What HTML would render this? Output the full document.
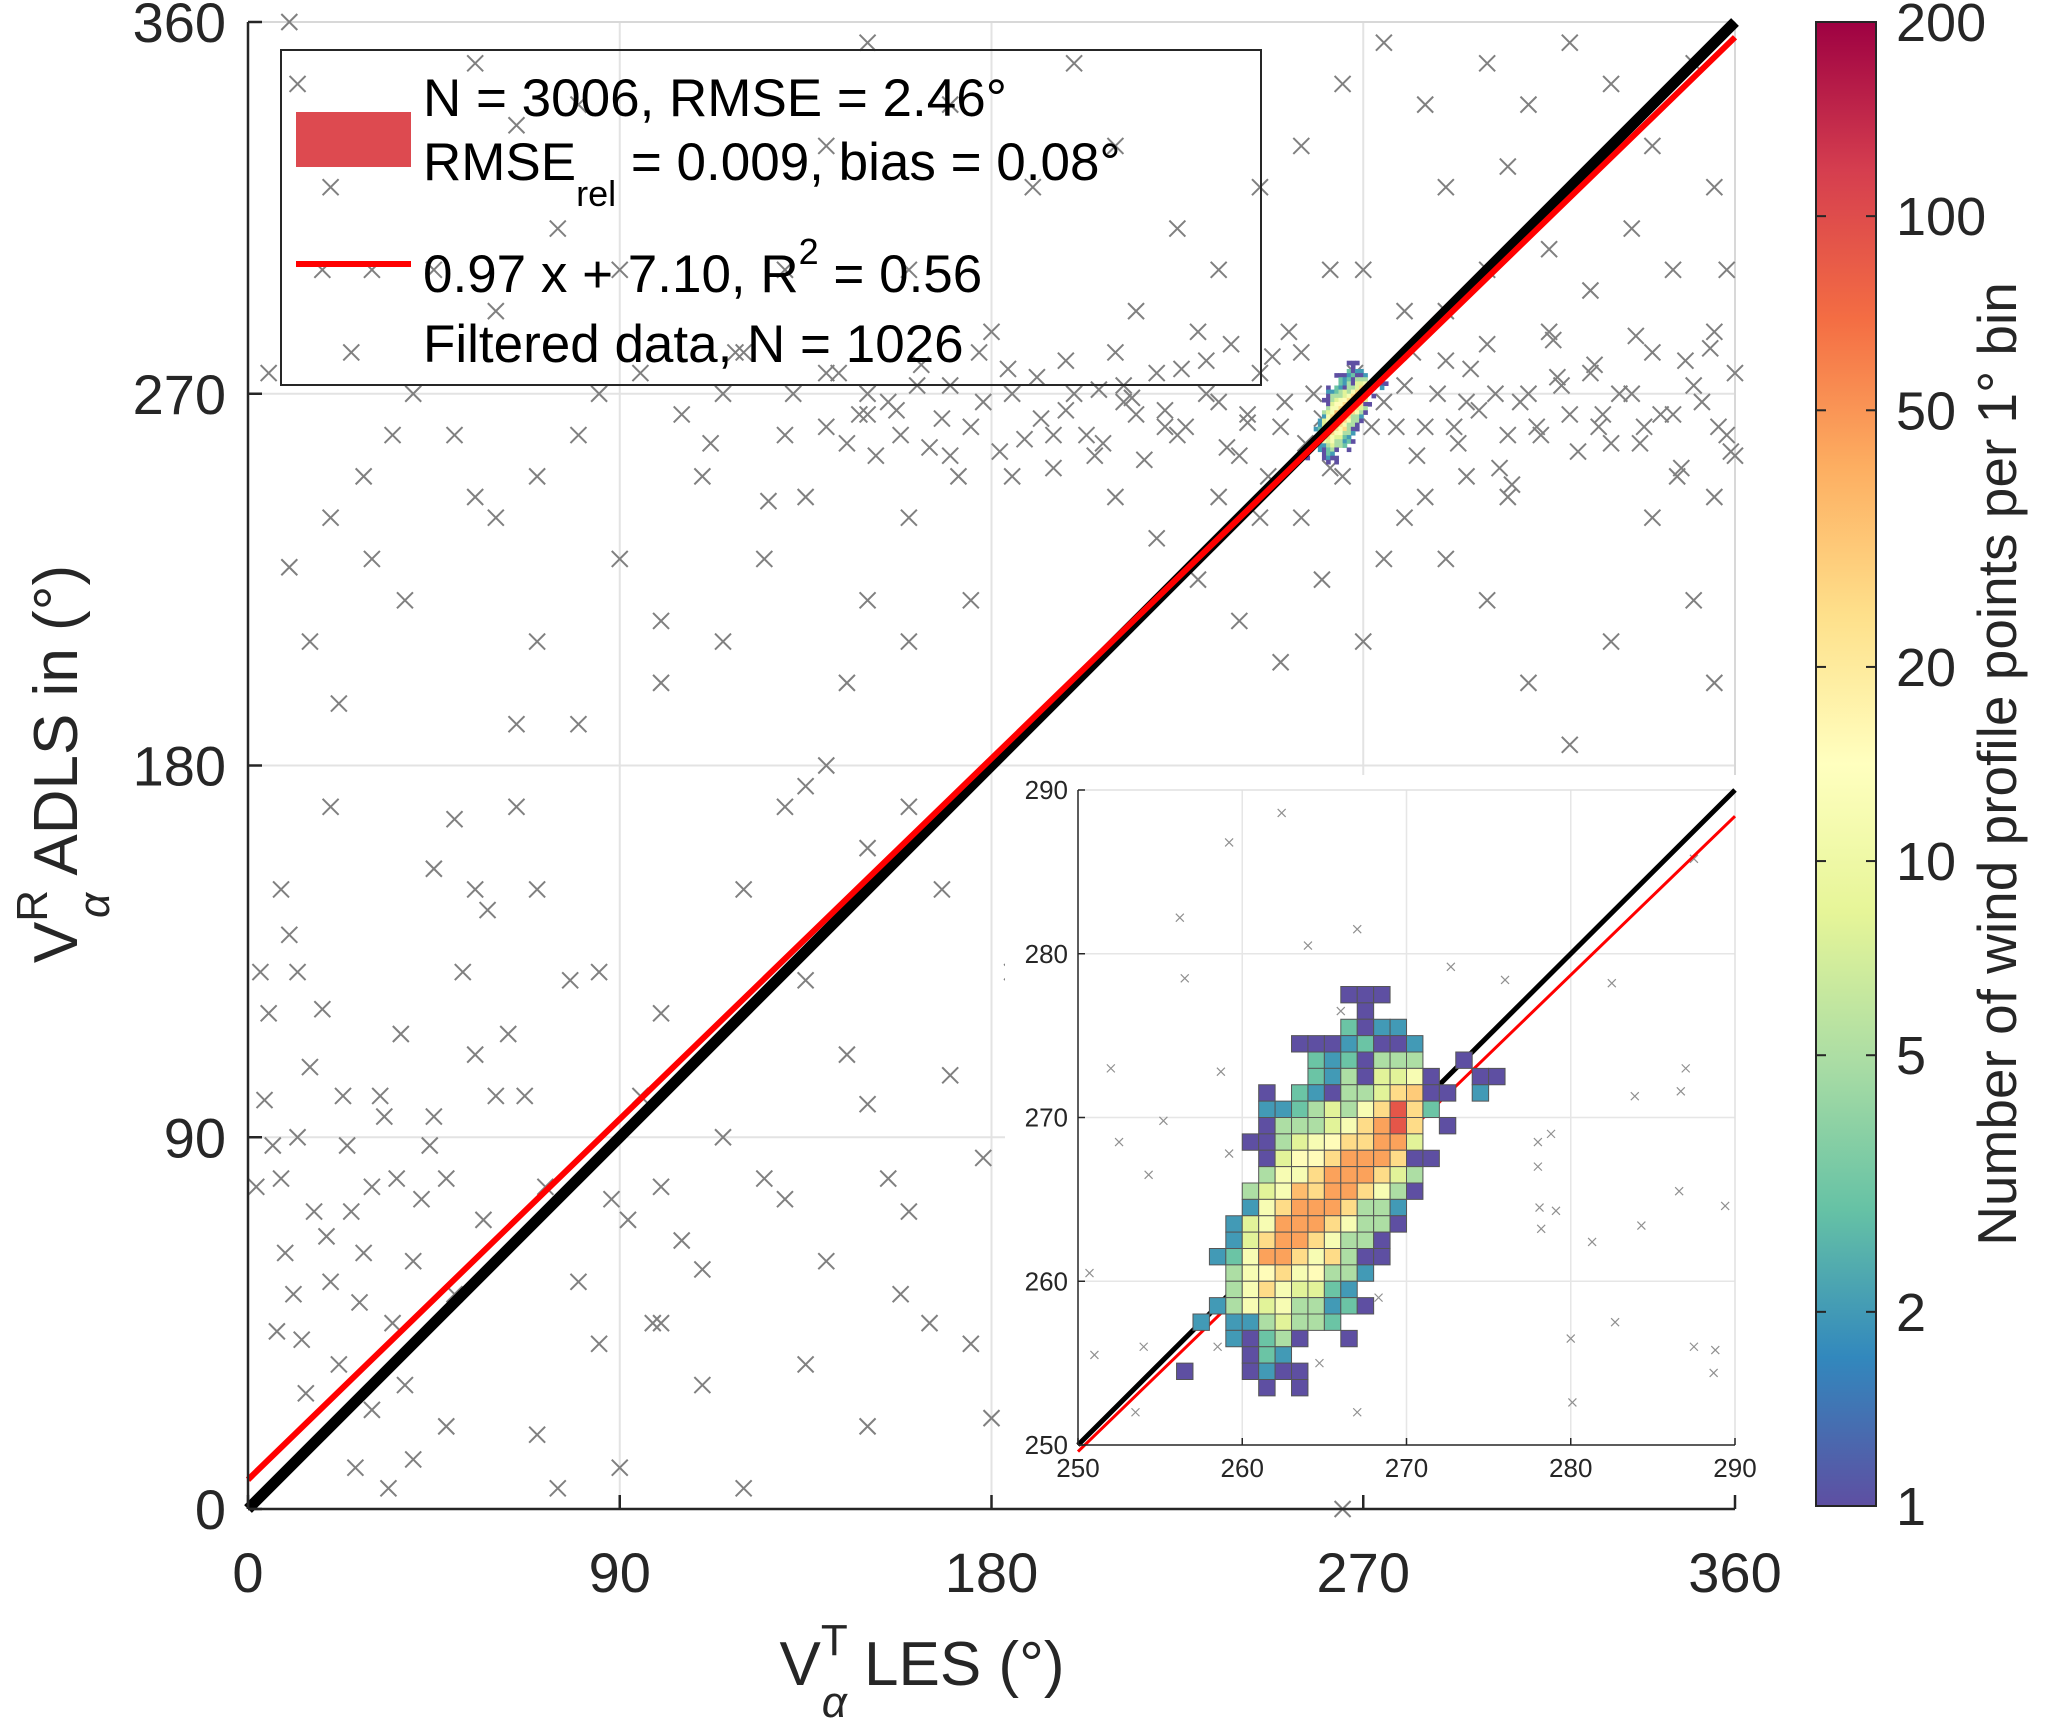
<!DOCTYPE html>
<html><head><meta charset="utf-8">
<style>
html,body{margin:0;padding:0;background:#fff;}
svg{display:block;font-family:"Liberation Sans",Arial,sans-serif;}
</style></head>
<body>
<svg id="chart" width="2066" height="1724" viewBox="0 0 2066 1724" xmlns="http://www.w3.org/2000/svg">
<rect width="2066" height="1724" fill="#fff"/>
<g id="main"></g>
<g id="legend"></g>
<g id="inset"></g>
<g id="cbar"></g>
</svg>
<script>
const mainTicks = [0, 90, 180, 270, 360];
const insetTicks = [250, 260, 270, 280, 290];
const cbarTicks = [1, 2, 5, 10, 20, 50, 100, 200];
const fitSlope = 0.97;
const fitIntercept = 7.10;
const scatterX = [4,6,13,8,15,12,20,25,28,30,33,22,35,38,40,42,45,48,50,52,55,57,60,63,18,10,26,34,40,44,32,16,9,24,30,36,27,19,11,7,14,3,58,70,75,67,72,80,85,88,95,100,105,110,98,115,120,125,130,135,140,145,150,155,158,160,165,170,175,178,180,150,135,110,90,100,120,130,135,140,150,160,168,100,92,85,78,70,65,55,50,45,20,8,5,2,12,23,37,48,
10,12,20,30,15,25,40,5,18,55,65,80,90,75,60,45,35,28,20,10,15,22,30,38,50,60,70,65,55,80,90,100,110,115,120,130,140,150,135,125,160,170,160,180,190,170,150,140,130,200,210,195,185,175,160,150,145,115,100,80,70,85,95,105,
200,205,210,215,220,225,230,235,240,245,250,255,258,262,275,280,285,290,295,300,305,310,315,320,325,330,335,340,345,350,355,358,300,305,310,320,330,340,350,355,345,335,325,315,300,290,285,275,265,255,245,235,225,215,210,220,230,240,250,260,270,280,290,300,310,320,330,340,350,355,305,295,285,275,265,255,245,235,270,280,262,290,318,328,338,348,312,302,292,282,272,268,252,242,232,222,212,360,360,358,355,
190,200,185,195,190,265,220,
140,145,148,152,155,158,162,165,168,172,175,178,182,185,188,192,195,198,203,207,212,217,222,227,232,237,242,247,251,256,260,278,283,288,293,298,303,308,313,317,322,327,332,337,342,347,352,356,359,143,150,157,163,170,177,184,191,198,206,214,226,238,248,296,306,316,326,336,346,354,126,132,118,112];
const scatterY = [99,88,41,80,107,130,55,72,62,78,95,35,45,30,60,75,95,20,52,130,110,70,100,115,121,139,10,5,12,88,100,72,62,88,24,80,50,66,52,43,28,130,145,18,5,100,78,55,40,75,100,78,65,58,45,90,5,80,75,128,60,110,98,80,52,72,45,105,40,85,22,20,35,30,10,45,150,170,175,180,160,170,150,120,70,130,128,150,170,150,167,155,170,150,120,78,90,100,115,80,
360,345,320,300,330,280,270,275,300,350,335,340,300,310,290,300,260,250,240,228,210,195,230,220,260,240,210,190,245,260,230,215,250,270,280,260,275,265,245,230,240,255,300,285,320,340,355,330,300,350,330,260,250,220,210,220,200,210,200,190,250,270,275,265,
270,255,280,265,275,260,285,268,255,275,262,280,270,252,268,272,262,278,268,282,260,270,285,265,275,258,270,280,265,272,285,260,350,325,340,355,345,330,350,320,300,310,295,305,300,320,340,355,345,330,320,300,310,290,245,235,225,215,205,225,210,240,230,220,200,185,210,240,220,200,245,250,245,230,250,240,240,245,300,290,300,290,272,265,262,278,262,270,262,280,262,275,285,265,278,262,272,275,255,300,245,
170,150,130,100,60,0,30,
262,258,265,255,268,260,272,257,264,250,262,268,256,270,259,264,252,266,260,258,268,254,266,262,270,257,263,250,268,258,264,262,255,270,258,266,252,268,260,274,256,262,270,258,265,252,268,262,256,275,270,266,277,272,280,276,274,278,271,269,276,282,279,276,248,283,277,284,250,281,244,270,280,258];
const insetPtX = [251,252,252.5,253.5,254,254.3,255.2,256.2,256.5,258.5,258.7,259.2,259.2,262.4,264,264.7,266,267,267,268.3,272.7,276,278,278,278.1,278.2,278.8,279.1,280,280.1,281.3,282.5,282.7,283.9,284.3,286.6,286.7,287,287.5,287.5,288.8,288.7,289.4,250.7];
const insetPtY = [255.5,273,268.5,252,256,266.5,269.8,282.2,278.5,256,272.8,286.8,267.8,288.6,280.5,255,276.5,281.5,252,259,279.2,278.4,268.5,267,264.5,263.2,269,264.3,256.5,252.6,262.4,278.2,257.5,271.3,263.4,265.5,271.6,273,285.8,256,255.8,254.4,264.6,260.5];
const binX = [266,267,268, 267, 266,267,268,269, 263,264,265,266,267,268,269,270, 264,265,266,267,268,269,270,273, 264,265,266,267,268,269,270,271,274,275,
261,263,264,265,266,267,268,269,270,271,272,274, 261,262,263,264,265,266,267,268,269,270,271, 261,262,263,264,265,266,267,268,269,270,272,
260,261,262,263,264,265,266,267,268,269,270, 261,262,263,264,265,266,267,268,269,270,271, 261,262,263,264,265,266,267,268,269,270,
260,261,262,263,264,265,266,267,268,269,270, 260,261,262,263,264,265,266,267,268,269, 259,260,261,262,263,264,265,266,267,268,269,
259,260,261,262,263,264,265,266,267,268, 258,259,260,261,262,263,264,265,266,267,268, 259,260,261,262,263,264,265,266,267,
259,260,261,262,263,264,265,266, 258,259,260,261,262,263,264,265,266,267, 257,259,260,261,262,263,264,265,
259,260,261,262,263,266, 260,261,262, 256,260,261,262,263, 261,263];
const binY = [277,277,277, 276, 275,275,275,275, 274,274,274,274,274,274,274,274, 273,273,273,273,273,273,273,273, 272,272,272,272,272,272,272,272,272,272,
271,271,271,271,271,271,271,271,271,271,271,271, 270,270,270,270,270,270,270,270,270,270,270, 269,269,269,269,269,269,269,269,269,269,269,
268,268,268,268,268,268,268,268,268,268,268, 267,267,267,267,267,267,267,267,267,267,267, 266,266,266,266,266,266,266,266,266,266,
265,265,265,265,265,265,265,265,265,265,265, 264,264,264,264,264,264,264,264,264,264, 263,263,263,263,263,263,263,263,263,263,263,
262,262,262,262,262,262,262,262,262,262, 261,261,261,261,261,261,261,261,261,261,261, 260,260,260,260,260,260,260,260,260,
259,259,259,259,259,259,259,259, 258,258,258,258,258,258,258,258,258,258, 257,257,257,257,257,257,257,257,
256,256,256,256,256,256, 255,255,255, 254,254,254,254,254, 253,253];
const binCount = [1,1,1, 1, 3,1,2,2, 1,1,1,2,3,1,1,2, 3,2,3,1,5,5,5,1, 3,2,5,1,8,8,12,1,1,1,
1,3,2,1,5,5,8,25,30,1,1,2, 2,2,3,5,8,5,12,25,90,25,3, 1,5,5,5,8,12,25,45,90,25,1,
1,1,5,8,12,15,25,25,45,45,8, 1,8,15,15,25,45,45,45,25,1,1, 5,12,12,25,45,45,45,25,8,5,
5,8,12,35,25,45,45,25,12,5,1, 2,12,25,45,45,45,25,5,5,2, 2,8,12,45,45,45,25,12,5,5,1,
2,8,25,45,45,25,12,5,5,1, 2,3,12,45,45,25,12,25,5,1,1, 5,12,15,25,12,15,5,5,2,
5,12,25,12,8,8,3,2, 2,5,12,8,12,5,5,2,3,1, 2,2,2,5,8,5,5,3,
2,1,3,5,1,1, 1,3,2, 1,1,2,1,1, 1,1];

const NS = "http://www.w3.org/2000/svg";
function mk(tag, attrs, parent){const e=document.createElementNS(NS,tag);for(const k in attrs)e.setAttribute(k,attrs[k]);parent.appendChild(e);return e;}
const spectral = ["#5e4fa2","#3288bd","#66c2a5","#abdda4","#e6f598","#ffffbf","#fee08b","#fdae61","#f46d43","#d53e4f","#9e0142"];
function hex(h){return [parseInt(h.slice(1,3),16),parseInt(h.slice(3,5),16),parseInt(h.slice(5,7),16)];}
function colorFor(v){let t=Math.log(v)/Math.log(200);t=Math.max(0,Math.min(1,t));const p=t*(spectral.length-1);const i=Math.min(Math.floor(p),spectral.length-2);const f=p-i;const a=hex(spectral[i]),b=hex(spectral[i+1]);return "rgb("+a.map((c,k)=>Math.round(c+(b[k]-c)*f)).join(",")+")";}

const M={x0:248,x1:1735,y0:1509,y1:22};
const mx=v=>M.x0+(v-0)/360*(M.x1-M.x0);
const my=v=>M.y0-(v-0)/360*(M.y0-M.y1);
const main=document.getElementById('main');
mainTicks.forEach(t=>{
  if(t>0&&t<360){
    const g1=mk('line',{x1:mx(t),x2:mx(t),y1:M.y1,y2:M.y0,stroke:'#e3e3e3','stroke-width':2},main);
    
    const g2=mk('line',{x1:M.x0,x2:M.x1,y1:my(t),y2:my(t),stroke:'#e3e3e3','stroke-width':2},main);
    
  }
});
mk('line',{x1:M.x0,x2:M.x1,y1:M.y1,y2:M.y1,stroke:'#d8d8d8','stroke-width':2},main);
mk('line',{x1:M.x1,x2:M.x1,y1:M.y1,y2:M.y0,stroke:'#d8d8d8','stroke-width':2},main);
const sc=mk('g',{stroke:'#808080','stroke-width':2,fill:'none'},main);

scatterX.forEach((xv,i)=>{const x=mx(xv),y=my(scatterY[i]),s=8;
  const p=mk('path',{d:`M${x-s},${y-s}L${x+s},${y+s}M${x-s},${y+s}L${x+s},${y-s}`},sc);
  });
const hm=mk('g',{},main);

binX.forEach((bx,i)=>{const r=mk('rect',{x:mx(bx),y:my(binY[i]+1),width:mx(bx+1)-mx(bx)+0.5,height:my(binY[i])-my(binY[i]+1)+0.5,fill:colorFor(binCount[i])},hm);
  });
const idl=mk('line',{x1:mx(0),y1:my(0),x2:mx(360),y2:my(360),stroke:'#000','stroke-width':11},main);

const fl=mk('line',{x1:mx(0),y1:my(fitIntercept),x2:mx(360),y2:my(fitSlope*360+fitIntercept),stroke:'#ff0000','stroke-width':6},main);

mk('line',{x1:M.x0,x2:M.x0,y1:M.y1,y2:M.y0,stroke:'#262626','stroke-width':2.5},main);
mk('line',{x1:M.x0,x2:M.x1,y1:M.y0,y2:M.y0,stroke:'#262626','stroke-width':2.5},main);
mainTicks.forEach(t=>{
  mk('line',{x1:mx(t),x2:mx(t),y1:M.y0,y2:M.y0-14,stroke:'#262626','stroke-width':2.5},main);
  mk('line',{x1:M.x0,x2:M.x0+14,y1:my(t),y2:my(t),stroke:'#262626','stroke-width':2.5},main);
  const tx=mk('text',{x:mx(t),y:M.y0+83,'text-anchor':'middle','font-size':56,fill:'#262626'},main);tx.textContent=t;
  
  const ty=mk('text',{x:M.x0-22,y:my(t)+20,'text-anchor':'end','font-size':56,fill:'#262626'},main);ty.textContent=t;
  
});
const xt=mk('text',{x:922,y:1685,'text-anchor':'middle','font-size':62,fill:'#262626'},main);

xt.innerHTML='V<tspan dy="-30" font-size="44">T</tspan><tspan dx="-26" dy="62" font-size="44" font-style="italic">α</tspan><tspan dy="-32"> LES (°)</tspan>';
const yt=mk('text',{x:0,y:0,'text-anchor':'middle','font-size':62,fill:'#262626',transform:'translate(77,764) rotate(-90)'},main);

yt.innerHTML='V<tspan dy="-30" font-size="44">R</tspan><tspan dx="-28" dy="62" font-size="44" font-style="italic">α</tspan><tspan dy="-32"> ADLS in (°)</tspan>';

const lg=document.getElementById('legend');
mk('rect',{x:281,y:50,width:980,height:335,fill:'none',stroke:'#262626','stroke-width':2},lg);
const lp=mk('rect',{x:296,y:112,width:115,height:55,fill:'#dd4a50'},lg);

const ll=mk('line',{x1:296,x2:411,y1:264,y2:264,stroke:'#ff0000','stroke-width':6},lg);

const lt1=mk('text',{x:423,y:116,'font-size':53,fill:'#000'},lg);lt1.textContent='N = 3006, RMSE = 2.46°';

const lt2=mk('text',{x:423,y:180,'font-size':53,fill:'#000'},lg);lt2.innerHTML='RMSE<tspan dy="26" font-size="36">rel</tspan><tspan dy="-26"> = 0.009, bias = 0.08°</tspan>';

const lt3=mk('text',{x:423,y:292,'font-size':53,fill:'#000'},lg);lt3.innerHTML='0.97 x + 7.10, R<tspan dy="-28" font-size="36">2</tspan><tspan dy="28"> = 0.56</tspan>';

const lt4=mk('text',{x:423,y:362,'font-size':53,fill:'#000'},lg);lt4.textContent='Filtered data, N = 1026';


const I={x0:1078,x1:1735,y0:1445,y1:790};
const ix=v=>I.x0+(v-250)/40*(I.x1-I.x0);
const iy=v=>I.y0-(v-250)/40*(I.y0-I.y1);
const ins=document.getElementById('inset');
mk('rect',{x:1005,y:775,width:740,height:720,fill:'#fff'},ins);
insetTicks.forEach(t=>{
  if(t>250&&t<290){
    mk('line',{x1:ix(t),x2:ix(t),y1:I.y1,y2:I.y0,stroke:'#e6e6e6','stroke-width':1.5},ins);
    mk('line',{x1:I.x0,x2:I.x1,y1:iy(t),y2:iy(t),stroke:'#e6e6e6','stroke-width':1.5},ins);
  }
});
mk('line',{x1:I.x0,x2:I.x1,y1:I.y1,y2:I.y1,stroke:'#e0e0e0','stroke-width':1.5},ins);
mk('line',{x1:I.x1,x2:I.x1,y1:I.y1,y2:I.y0,stroke:'#e0e0e0','stroke-width':1.5},ins);
const isc=mk('g',{stroke:'#909090','stroke-width':1.2,fill:'none'},ins);

insetPtX.forEach((xv,i)=>{const x=ix(xv),y=iy(insetPtY[i]),s=4;
  const p=mk('path',{d:`M${x-s},${y-s}L${x+s},${y+s}M${x-s},${y+s}L${x+s},${y-s}`},isc);
  });
const il1=mk('line',{x1:ix(250),y1:iy(250),x2:ix(290),y2:iy(290),stroke:'#000','stroke-width':5},ins);

const il2=mk('line',{x1:ix(250),y1:iy(fitSlope*250+fitIntercept),x2:ix(290),y2:iy(fitSlope*290+fitIntercept),stroke:'#ff0000','stroke-width':3},ins);

const ihm=mk('g',{stroke:'#555','stroke-width':1},ins);

binX.forEach((bx,i)=>{const r=mk('rect',{x:ix(bx),y:iy(binY[i]+1),width:ix(bx+1)-ix(bx),height:iy(binY[i])-iy(binY[i]+1),fill:colorFor(binCount[i])},ihm);
  });
mk('line',{x1:I.x0,x2:I.x0,y1:I.y1,y2:I.y0,stroke:'#262626','stroke-width':1.5},ins);
mk('line',{x1:I.x0,x2:I.x1,y1:I.y0,y2:I.y0,stroke:'#262626','stroke-width':1.5},ins);
insetTicks.forEach(t=>{
  mk('line',{x1:ix(t),x2:ix(t),y1:I.y0,y2:I.y0-7,stroke:'#262626','stroke-width':1.5},ins);
  mk('line',{x1:I.x0,x2:I.x0+7,y1:iy(t),y2:iy(t),stroke:'#262626','stroke-width':1.5},ins);
  const a=mk('text',{x:ix(t),y:I.y0+32,'text-anchor':'middle','font-size':26,fill:'#262626'},ins);a.textContent=t;
  
  const b=mk('text',{x:I.x0-10,y:iy(t)+9,'text-anchor':'end','font-size':26,fill:'#262626'},ins);b.textContent=t;
  
});

const C={x0:1816,x1:1876,y0:1506,y1:22};
const cy=v=>C.y0-Math.log(v)/Math.log(200)*(C.y0-C.y1);
const cb=document.getElementById('cbar');
const defs=mk('defs',{},cb);
const grad=mk('linearGradient',{id:'cg',x1:0,y1:1,x2:0,y2:0},defs);
spectral.forEach((c,i)=>mk('stop',{offset:(i/(spectral.length-1)),'stop-color':c},grad));
const cr=mk('rect',{x:C.x0,y:C.y1,width:C.x1-C.x0,height:C.y0-C.y1,fill:'url(#cg)',stroke:'#262626','stroke-width':2},cb);

cbarTicks.forEach(t=>{
  mk('line',{x1:C.x0,x2:C.x0+10,y1:cy(t),y2:cy(t),stroke:'#262626','stroke-width':2},cb);
  mk('line',{x1:C.x1-10,x2:C.x1,y1:cy(t),y2:cy(t),stroke:'#262626','stroke-width':2},cb);
  const tl=mk('text',{x:C.x1+20,y:cy(t)+19,'font-size':54,fill:'#262626'},cb);tl.textContent=t;
  
});
const ct=mk('text',{x:0,y:0,'text-anchor':'middle','font-size':55,fill:'#262626',transform:'translate(2016,764) rotate(-90)'},cb);
ct.textContent='Number of wind profile points per 1° bin';

</script>
</body></html>
